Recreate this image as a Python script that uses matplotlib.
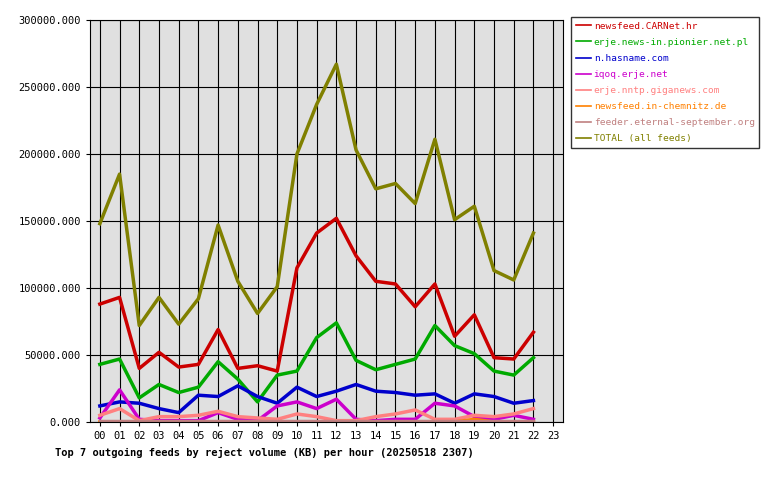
import matplotlib
matplotlib.use("Agg")
import matplotlib.pyplot as plt

hours = list(range(23))
hour_labels = ["%02d" % h for h in range(24)]

names = ["newsfeed.CARNet.hr", "erje.news-in.pionier.net.pl", "n.hasname.com",
         "iqoq.erje.net", "erje.nntp.giganews.com", "newsfeed.in-chemnitz.de",
         "feeder.eternal-september.org", "TOTAL (all feeds)"]
colors = ["#cc0000", "#00aa00", "#0000cc", "#cc00cc", "#ff8080", "#ff8000", "#c08080", "#808000"]

carnet = [88, 93, 40, 52, 41, 43, 69, 40, 42, 38, 115, 141, 152, 124, 105, 103, 86, 103, 64, 80, 48, 47, 67]
pionier = [43, 47, 18, 28, 22, 26, 45, 32, 15, 35, 38, 63, 74, 46, 39, 43, 47, 72, 57, 51, 38, 35, 48]
hasname = [12, 15, 14, 10, 7, 20, 19, 27, 19, 14, 26, 19, 23, 28, 23, 22, 20, 21, 14, 21, 19, 14, 16]
iqoq = [3, 24, 2, 1, 1, 1, 7, 2, 1, 12, 15, 10, 17, 2, 1, 2, 2, 14, 12, 4, 2, 5, 2]
giganews = [5, 10, 1, 4, 4, 5, 8, 4, 3, 2, 6, 4, 1, 1, 4, 6, 9, 2, 2, 5, 4, 6, 10]
chemnitz = [0, 0, 0, 0, 0, 0, 0, 0, 0, 0, 0, 0, 0, 0, 0, 0, 0, 0, 0, 2, 0, 0, 0]
eternal = [0.5] * 23
total = [148, 185, 72, 93, 73, 92, 147, 105, 81, 101, 200, 237, 267, 203, 174, 178, 163, 211, 151, 161, 113, 106, 141]

series = [carnet, pionier, hasname, iqoq, giganews, chemnitz, eternal, total]

plt.rcParams["font.family"] = "DejaVu Sans Mono"
fig = plt.figure(figsize=(7.8, 4.8), dpi=100)
ax = fig.add_axes([90 / 780, 58 / 480, 473 / 780, 402 / 480])
ax.set_facecolor("#e0e0e0")

draw_order = [7, 0, 1, 2, 3, 4, 5, 6]
handles = {}
for i in draw_order:
    vals = [v * 1000 for v in series[i]]
    (ln,) = ax.plot(hours, vals, color=colors[i], lw=2.5, label=names[i])
    handles[i] = ln

ax.set_xlim(-0.5, 23.5)
ax.set_ylim(0, 300000)
ax.set_xticks(range(24))
ax.set_xticklabels(hour_labels, fontsize=7.5)
ax.set_yticks(range(0, 300001, 50000))
ax.set_yticklabels(["%d.000" % v for v in range(0, 300001, 50000)], fontsize=7.5)
ax.grid(axis="x", color="black", lw=0.8)
ax.grid(axis="y", color="black", lw=0.8)
ax.tick_params(length=3)

leg = fig.legend([handles[i] for i in range(8)], names, loc="upper left",
                 bbox_to_anchor=(571 / 780, 1 - 17 / 480), fontsize=6.8,
                 frameon=True, fancybox=False, edgecolor="black",
                 handlelength=1.6, handletextpad=0.3, borderpad=0.5,
                 borderaxespad=0, labelspacing=0.75)
for t, c in zip(leg.get_texts(), colors):
    t.set_color(c)
for l in leg.get_lines():
    l.set_linewidth(1.2)

fig.text(55 / 780, 1 - 452 / 480, "Top 7 outgoing feeds by reject volume (KB) per hour (20250518 2307)",
         fontsize=7.5, fontweight="bold", va="center")

fig.savefig("out.png", dpi=100)
